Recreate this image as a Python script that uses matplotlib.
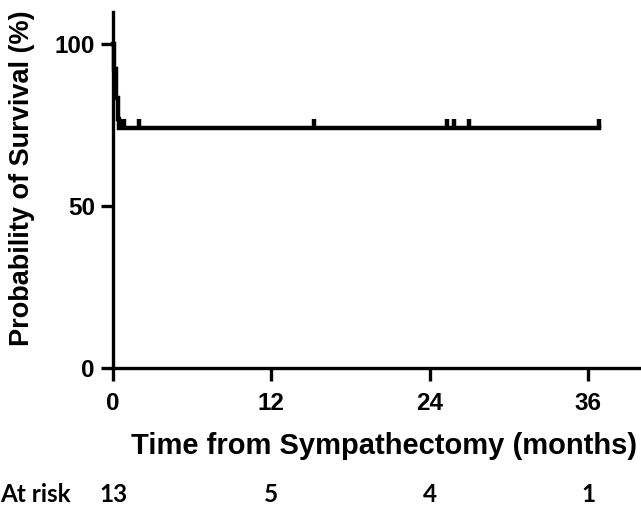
import matplotlib
matplotlib.use("Agg")
import matplotlib.pyplot as plt

# Data
event_times = [0.0, 0.1, 0.2, 0.36, 0.42]
survival = [100.0, 92.3, 83.5, 77.0, 74.3]
end_time = 36.8
censor_times = [0.55, 0.85, 2.0, 15.2, 25.3, 25.8, 27.0, 36.8]
xticks = [0, 12, 24, 36]
yticks = [0, 50, 100]
risk_times = [0, 12, 24, 36]
risk_counts = ["13", "5", "4", "1"]

W, H = 641, 514
fig = plt.figure(figsize=(W / 100, H / 100), dpi=100)
ax = fig.add_axes([113 / W, 1 - 368 / H, (W - 113) / W, 356 / H])

xs = event_times + [end_time]
ys = survival + [survival[-1]]
ax.step(xs, ys, where="post", color="black", lw=3.2, solid_joinstyle="miter", clip_on=False)

def surv_at(t):
    s = survival[0]
    for et, sv in zip(event_times, survival):
        if et <= t:
            s = sv
    return s

for t in censor_times:
    s = surv_at(t)
    ax.plot([t, t], [s, s + 2.6], color="black", lw=3.2, solid_capstyle="butt", clip_on=False)

ax.set_xlim(0, 40)
ax.set_ylim(0, 110)
ax.set_xticks(xticks)
ax.set_yticks(yticks)
for sp in ["top", "right"]:
    ax.spines[sp].set_visible(False)
for sp in ["left", "bottom"]:
    ax.spines[sp].set_linewidth(2.4)
ax.tick_params(axis="both", length=9, width=2.4, direction="out")
ax.tick_params(axis="x", pad=8)
ax.tick_params(axis="y", pad=4)
for lab in ax.get_xticklabels() + ax.get_yticklabels():
    lab.set_fontfamily("Liberation Sans")
    lab.set_fontweight("bold")
    lab.set_fontsize(17.5)

fig.text(384 / W, 1 - 446 / H, "Time from Sympathectomy (months)", fontsize=21,
         fontweight="bold", family="Liberation Sans", ha="center", va="center")
fig.text(22 / W, 1 - 178 / H, "Probability of Survival (%)", fontsize=19.5,
         fontweight="bold", family="Liberation Sans", ha="center", va="center", rotation=90)

# At risk row
ry = 1 - 494 / H
fig.text(0.0, ry, "At risk", fontsize=17.5, fontweight="bold", family="Lato",
         va="center", ha="left")
for t, c in zip(risk_times, risk_counts):
    xf = ax.transData.transform((t, 0))[0]
    fig.text(xf / fig.bbox.width, ry, c, fontsize=17.5, fontweight="bold",
             family="Lato", va="center", ha="center")

fig.savefig("out.png", dpi=100, facecolor="white")
